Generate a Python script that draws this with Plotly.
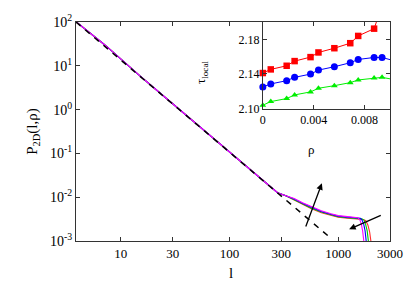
import plotly.graph_objects as go

# ---------------- main panel data ----------------
# shared head of the four P_2D curves (they overlap up to l ~ 330)
l_head = [3.9, 5, 6, 7, 8, 9, 10, 11, 12, 15, 20, 30, 50, 100, 150, 200, 250, 277, 330]
p_head = [100, 62, 42, 31, 23.5, 18.0, 14.2, 11.8, 9.9, 5.9, 3.2, 1.36, 0.46, 0.107,
          0.046, 0.025, 0.0158, 0.0127, 0.0108]

# plateau + cut-off for each rho
l_tail_mag = [394, 470, 562, 700, 858, 1000, 1217, 1400, 1520, 1580, 1630, 1680, 1720, 1750]
p_tail_mag = [0.0093, 0.0075, 0.0061, 0.0049, 0.0042, 0.0038, 0.0036, 0.0035, 0.0034,
              0.0031, 0.0025, 0.0017, 0.0011, 0.0007]
l_tail_blu = [394, 470, 562, 700, 858, 1000, 1217, 1400, 1600, 1660, 1720, 1770, 1810, 1840]
p_tail_blu = [0.0091, 0.0073, 0.0059, 0.0047, 0.0041, 0.0037, 0.0035, 0.0034, 0.0033,
              0.0030, 0.0024, 0.0017, 0.0011, 0.0007]
l_tail_grn = [394, 470, 562, 700, 858, 1000, 1217, 1400, 1650, 1730, 1790, 1850, 1900, 1930]
p_tail_grn = [0.0089, 0.0071, 0.0057, 0.0046, 0.0040, 0.0036, 0.0034, 0.0033, 0.0032,
              0.0030, 0.0024, 0.0017, 0.0011, 0.0007]
l_tail_red = [394, 470, 562, 700, 858, 1000, 1217, 1400, 1700, 1800, 1880, 1950, 2000, 2040]
p_tail_red = [0.0087, 0.0069, 0.0055, 0.0044, 0.0038, 0.0035, 0.0033, 0.0032, 0.0031,
              0.0029, 0.0023, 0.0016, 0.0011, 0.0007]

# power-law guide (dashed), endpoints
l_guide = [3.87, 850]
p_guide = [100, 0.00118]

x_ticks = [10, 30, 100, 300, 1000, 3000]
y_ticks = [1e-3, 1e-2, 1e-1, 1, 10, 100]
y_ticktext = ["10<sup>-3</sup>", "10<sup>-2</sup>", "10<sup>-1</sup>",
              "10<sup>0</sup>", "10<sup>1</sup>", "10<sup>2</sup>"]

# ---------------- inset data ----------------
rho = [0, 0.000625, 0.001875, 0.0025, 0.00375, 0.004375, 0.005625, 0.006875,
       0.0075, 0.00875, 0.009375, 0.010625]
tau_red = [2.141, 2.1452, 2.1494, 2.1548, 2.1594, 2.1648, 2.1697, 2.1755,
           2.1839, 2.1923, 2.2188, None]
tau_blue = [2.1249, 2.1284, 2.1322, 2.1360, 2.1398, 2.1444, 2.1483, 2.1529,
            2.1567, 2.1590, 2.1590, 2.1540]
tau_green = [2.1038, 2.1080, 2.1115, 2.1157, 2.1192, 2.1234, 2.1264, 2.1299,
             2.1330, 2.1352, 2.1360, 2.1326]
rho_ticks = [0, 0.004, 0.008]
rho_ticktext = ["0", "0.004", "0.008"]
tau_ticks = [2.10, 2.14, 2.18]
tau_ticktext = ["2.10", "2.14", "2.18"]
RHO_RANGE = [0, 0.010]
TAU_RANGE = [2.10, 2.20]

FONT = "Liberation Serif"
fig = go.Figure()

curves = [
    (l_tail_red, p_tail_red, "#ff3030"),
    (l_tail_grn, p_tail_grn, "#00cc00"),
    (l_tail_blu, p_tail_blu, "#0000ff"),
    (l_tail_mag, p_tail_mag, "#ff00ff"),
]
for lt, pt, col in curves:
    fig.add_trace(go.Scatter(x=l_head + lt, y=p_head + pt, mode="lines",
                             line=dict(color=col, width=1.1), showlegend=False,
                             xaxis="x", yaxis="y"))

fig.add_trace(go.Scatter(x=l_guide, y=p_guide, mode="lines",
                         line=dict(color="black", width=1.5, dash="6px,6px"),
                         showlegend=False, xaxis="x", yaxis="y"))

# inset traces: lines clipped, markers only for in-range points
inset = [
    (tau_red, "#ff0000", "square", 6.5),
    (tau_blue, "#0000ff", "circle", 7),
    (tau_green, "#00ee00", "triangle-up", 6),
]
for tau, col, sym, sz in inset:
    fig.add_trace(go.Scatter(x=rho, y=tau, mode="lines",
                             line=dict(color=col, width=1), showlegend=False,
                             xaxis="x2", yaxis="y2", cliponaxis=True))
    keep = [(r, t) for r, t in zip(rho, tau)
            if t is not None and RHO_RANGE[0] <= r <= RHO_RANGE[1]
            and TAU_RANGE[0] <= t <= TAU_RANGE[1]]
    fig.add_trace(go.Scatter(x=[k[0] for k in keep], y=[k[1] for k in keep], mode="markers",
                             marker=dict(color=col, symbol=sym, size=sz, line=dict(width=0)),
                             showlegend=False, xaxis="x2", yaxis="y2", cliponaxis=False))


def axis_style(size):
    return dict(showline=True, linecolor="#333333", linewidth=1, mirror="ticks",
                ticks="inside", ticklen=4, tickcolor="#333333", showgrid=False,
                zeroline=False, tickfont=dict(family=FONT, size=size, color="black"))


fig.update_layout(
    width=415, height=291,
    margin=dict(l=76, r=23, t=18, b=50),
    paper_bgcolor="white", plot_bgcolor="white",
    font=dict(family=FONT, size=13, color="black"),
    xaxis=dict(type="log", range=[0.5877, 3.4771], tickvals=x_ticks,
               ticktext=[str(v) for v in x_ticks], domain=[0, 1], **axis_style(13)),
    yaxis=dict(type="log", range=[-3, 2], tickvals=y_ticks, ticktext=y_ticktext,
               domain=[0, 1], **axis_style(14)),
    xaxis2=dict(range=RHO_RANGE, tickvals=rho_ticks, ticktext=rho_ticktext,
                domain=[0.595, 1.0], anchor="y2", **axis_style(12)),
    yaxis2=dict(range=TAU_RANGE, tickvals=tau_ticks, ticktext=tau_ticktext,
                domain=[0.605, 1.0], anchor="x2", **axis_style(12)),
    showlegend=False,
)

# arrows (positions in log10 data units of the main axes)
fig.add_annotation(x=2.850, y=-1.684, ax=2.697, ay=-2.702, xref="x", yref="y",
                   axref="x", ayref="y", showarrow=True, arrowhead=2, arrowsize=1,
                   arrowwidth=1.3, arrowcolor="black", text="")
fig.add_annotation(x=3.101, y=-2.731, ax=3.406, ay=-2.401, xref="x", yref="y",
                   axref="x", ayref="y", showarrow=True, arrowhead=2, arrowsize=1,
                   arrowwidth=1.3, arrowcolor="black", text="")

# axis titles
fig.add_annotation(text="P<sub>2D</sub>(l,ρ)", xref="paper", yref="paper",
                   x=-0.174, y=0.50, textangle=-90, showarrow=False,
                   font=dict(family=FONT, size=15, color="black"))
fig.add_annotation(text="l", xref="paper", yref="paper", x=0.494, y=-0.19,
                   showarrow=False, font=dict(family=FONT, size=15, color="black"))
fig.add_annotation(text="τ<sub>local</sub>", xref="paper", yref="paper",
                   x=0.402, y=0.83, textangle=-90, showarrow=False,
                   font=dict(family=FONT, size=13, color="black"))
fig.add_annotation(text="ρ", xref="paper", yref="paper", x=0.766, y=0.42,
                   showarrow=False, font=dict(family=FONT, size=13, color="black"))

fig.write_html("out.html", config={"displayModeBar": False},
               post_script="document.body.style.margin='0';")
